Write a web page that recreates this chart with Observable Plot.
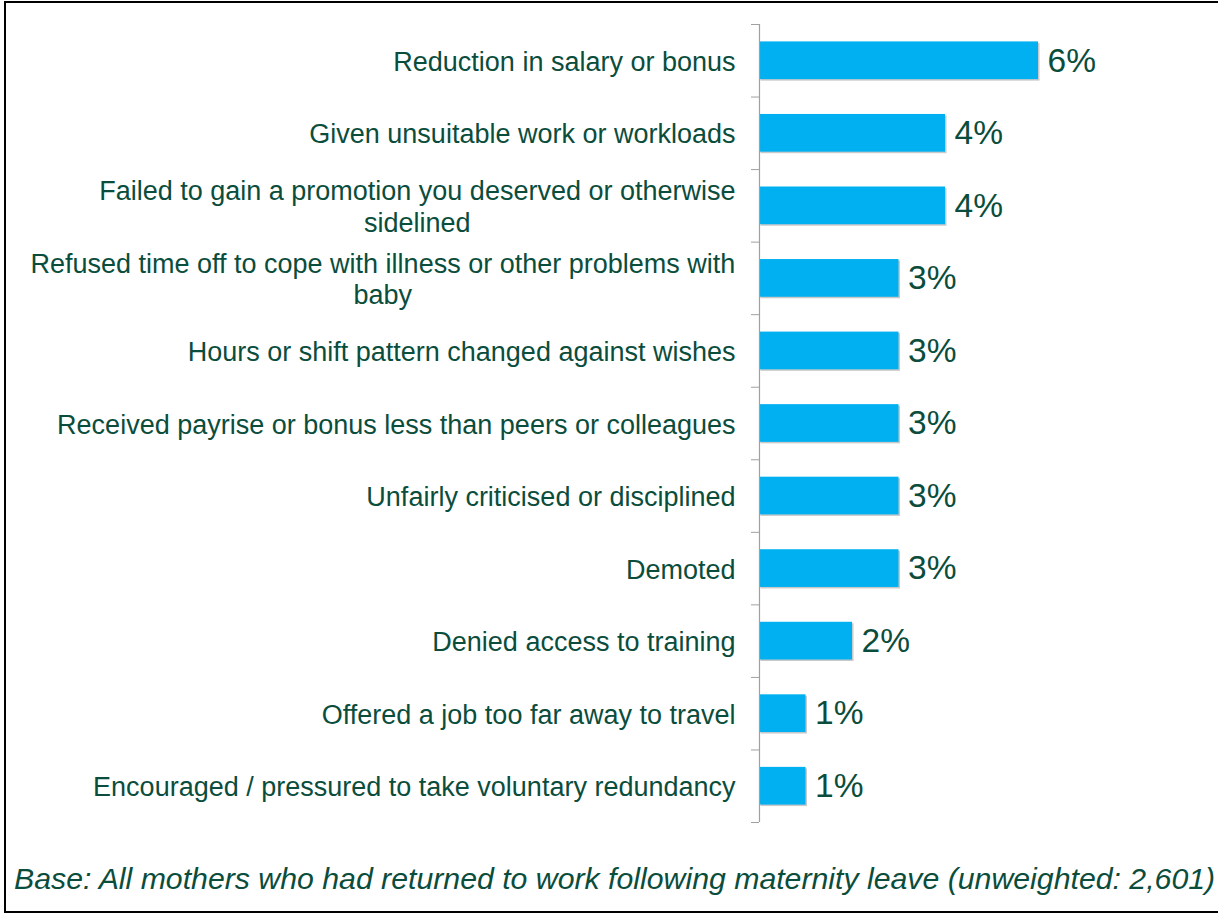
<!DOCTYPE html>
<html>
<head>
<meta charset="utf-8">
<script src="https://cdn.jsdelivr.net/npm/d3@7"></script>
<script src="https://cdn.jsdelivr.net/npm/@observablehq/plot@0.6"></script>
<style>
  html, body { margin: 0; padding: 0; background: #fff; overflow: hidden; }
  #frame { position: absolute; left: 4px; top: 1px; width: 1240px; height: 912px;
           border: 2px solid #000; box-sizing: border-box; }
  #chart svg { display: block; }
  #caption { margin-top: 8px; padding-left: 8px; font-family: "Liberation Sans", Arial, sans-serif;
             font-style: italic; font-size: 30.25px; line-height: 36px; color: #0B4D3C; white-space: nowrap; }
</style>
</head>
<body>
<div id="frame"><div id="chart"></div><div id="caption"></div></div>
<script>
const categories = [
  "Reduction in salary or bonus",
  "Given unsuitable work or workloads",
  "Failed to gain a promotion you deserved or otherwise sidelined",
  "Refused time off to cope with illness or other problems with baby",
  "Hours or shift pattern changed against wishes",
  "Received payrise or bonus less than peers or colleagues",
  "Unfairly criticised or disciplined",
  "Demoted",
  "Denied access to training",
  "Offered a job too far away to travel",
  "Encouraged / pressured to take voluntary redundancy"
];
const tickLabels = [
  "Reduction in salary or bonus",
  "Given unsuitable work or workloads",
  "Failed to gain a promotion you deserved or otherwise\nsidelined",
  "Refused time off to cope with illness or other problems with\nbaby",
  "Hours or shift pattern changed against wishes",
  "Received payrise or bonus less than peers or colleagues",
  "Unfairly criticised or disciplined",
  "Demoted",
  "Denied access to training",
  "Offered a job too far away to travel",
  "Encouraged / pressured to take voluntary redundancy"
];
const values = [6, 4, 4, 3, 3, 3, 3, 3, 2, 1, 1];
const captionText = "Base: All mothers who had returned to work following maternity leave (unweighted: 2,601)";

const data = categories.map((c, i) => ({cat: c, value: values[i]}));
const textColor = "#0B4D3C";
const W = 1212, H = 850, mT = 21, mB = 31;
const step = (H - mT - mB) / categories.length;

const chart = Plot.plot({
  width: W, height: H,
  marginLeft: 753, marginRight: 180, marginTop: mT, marginBottom: mB,
  style: {fontFamily: '"Liberation Sans", Arial, sans-serif', background: "#fff", overflow: "visible"},
  x: {domain: [0, 6], axis: null, label: null},
  y: {domain: categories, paddingInner: 0.48, paddingOuter: 0.24, round: false, axis: null, label: null},
  marks: [
    Plot.barX(data, {x: "value", y: "cat", fill: "#c9c9c9", dx: 1.5, dy: 1.5}),
    Plot.barX(data, {x: "value", y: "cat", fill: "#00B0F0"}),
    Plot.ruleX([0], {stroke: "#a0a0a0", strokeWidth: 1.2}),
    Plot.axisY({ticks: categories, tickSize: 8, tickFormat: () => "", label: null, stroke: "#a0a0a0", dy: -step / 2}),
    Plot.axisY({ticks: [categories[categories.length - 1]], tickSize: 8, tickFormat: () => "", label: null, stroke: "#a0a0a0", dy: step / 2}),
    Plot.axisY({
      ticks: categories, tickSize: 0, tickPadding: 24, fontSize: 27, color: textColor,
      lineHeight: 1.16, label: null,
      tickFormat: d => tickLabels[categories.indexOf(d)]
    }),
    Plot.text(data, {x: "value", y: "cat", text: d => d.value + "%", dx: 9, textAnchor: "start",
      fontSize: 33.5, fill: textColor})
  ]
});
document.getElementById("chart").appendChild(chart);
document.getElementById("caption").textContent = captionText;

// center multi-line labels relative to each other while keeping the block right-aligned
chart.querySelectorAll("text").forEach(t => {
  const spans = t.querySelectorAll("tspan");
  if (spans.length > 1) {
    const w = t.getBBox().width;
    t.setAttribute("text-anchor", "middle");
    spans.forEach(s => s.setAttribute("x", -w / 2));
  }
});
</script>
</body>
</html>
